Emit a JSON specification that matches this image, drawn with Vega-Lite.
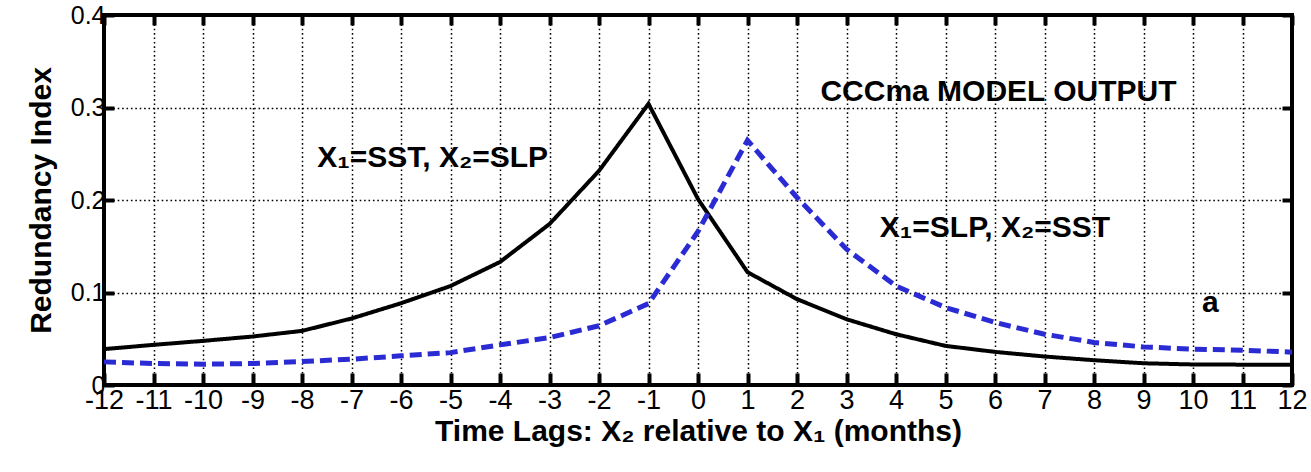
{
  "$schema": "https://vega.github.io/schema/vega-lite/v6.json",
  "width": 1188,
  "height": 370,
  "autosize": {"type": "none"},
  "padding": {"left": 104, "top": 15, "right": 19, "bottom": 87},
  "background": "white",
  "config": {
    "font": "Liberation Sans",
    "view": {"stroke": "black", "strokeWidth": 4},
    "axis": {
      "labelFont": "Liberation Sans",
      "titleFont": "Liberation Sans",
      "labelFontSize": 27,
      "labelColor": "black",
      "titleFontSize": 30,
      "titleFontWeight": "bold",
      "titleColor": "black",
      "tickColor": "black",
      "tickWidth": 4,
      "domain": false,
      "gridColor": "black",
      "gridOpacity": 1,
      "gridWidth": 1.5,
      "gridDash": [1.6, 2.8]
    }
  },
  "datasets": {
    "curves": [
      {"lag": -12, "value": 0.0388, "series": "X1=SST, X2=SLP"},
      {"lag": -11, "value": 0.0434, "series": "X1=SST, X2=SLP"},
      {"lag": -10, "value": 0.0477, "series": "X1=SST, X2=SLP"},
      {"lag": -9, "value": 0.0524, "series": "X1=SST, X2=SLP"},
      {"lag": -8, "value": 0.0585, "series": "X1=SST, X2=SLP"},
      {"lag": -7, "value": 0.0719, "series": "X1=SST, X2=SLP"},
      {"lag": -6, "value": 0.0884, "series": "X1=SST, X2=SLP"},
      {"lag": -5, "value": 0.107, "series": "X1=SST, X2=SLP"},
      {"lag": -4, "value": 0.133, "series": "X1=SST, X2=SLP"},
      {"lag": -3, "value": 0.174, "series": "X1=SST, X2=SLP"},
      {"lag": -2, "value": 0.2315, "series": "X1=SST, X2=SLP"},
      {"lag": -1, "value": 0.304, "series": "X1=SST, X2=SLP"},
      {"lag": 0, "value": 0.201, "series": "X1=SST, X2=SLP"},
      {"lag": 1, "value": 0.122, "series": "X1=SST, X2=SLP"},
      {"lag": 2, "value": 0.0928, "series": "X1=SST, X2=SLP"},
      {"lag": 3, "value": 0.0711, "series": "X1=SST, X2=SLP"},
      {"lag": 4, "value": 0.0549, "series": "X1=SST, X2=SLP"},
      {"lag": 5, "value": 0.0423, "series": "X1=SST, X2=SLP"},
      {"lag": 6, "value": 0.0358, "series": "X1=SST, X2=SLP"},
      {"lag": 7, "value": 0.0308, "series": "X1=SST, X2=SLP"},
      {"lag": 8, "value": 0.0268, "series": "X1=SST, X2=SLP"},
      {"lag": 9, "value": 0.0235, "series": "X1=SST, X2=SLP"},
      {"lag": 10, "value": 0.0222, "series": "X1=SST, X2=SLP"},
      {"lag": 11, "value": 0.022, "series": "X1=SST, X2=SLP"},
      {"lag": 12, "value": 0.022, "series": "X1=SST, X2=SLP"},
      {"lag": -12, "value": 0.025, "series": "X1=SLP, X2=SST"},
      {"lag": -11, "value": 0.0232, "series": "X1=SLP, X2=SST"},
      {"lag": -10, "value": 0.0225, "series": "X1=SLP, X2=SST"},
      {"lag": -9, "value": 0.0232, "series": "X1=SLP, X2=SST"},
      {"lag": -8, "value": 0.0254, "series": "X1=SLP, X2=SST"},
      {"lag": -7, "value": 0.0279, "series": "X1=SLP, X2=SST"},
      {"lag": -6, "value": 0.0315, "series": "X1=SLP, X2=SST"},
      {"lag": -5, "value": 0.035, "series": "X1=SLP, X2=SST"},
      {"lag": -4, "value": 0.0434, "series": "X1=SLP, X2=SST"},
      {"lag": -3, "value": 0.0513, "series": "X1=SLP, X2=SST"},
      {"lag": -2, "value": 0.064, "series": "X1=SLP, X2=SST"},
      {"lag": -1, "value": 0.088, "series": "X1=SLP, X2=SST"},
      {"lag": 0, "value": 0.166, "series": "X1=SLP, X2=SST"},
      {"lag": 1, "value": 0.2645, "series": "X1=SLP, X2=SST"},
      {"lag": 2, "value": 0.2027, "series": "X1=SLP, X2=SST"},
      {"lag": 3, "value": 0.1468, "series": "X1=SLP, X2=SST"},
      {"lag": 4, "value": 0.107, "series": "X1=SLP, X2=SST"},
      {"lag": 5, "value": 0.0838, "series": "X1=SLP, X2=SST"},
      {"lag": 6, "value": 0.0676, "series": "X1=SLP, X2=SST"},
      {"lag": 7, "value": 0.0549, "series": "X1=SLP, X2=SST"},
      {"lag": 8, "value": 0.046, "series": "X1=SLP, X2=SST"},
      {"lag": 9, "value": 0.0412, "series": "X1=SLP, X2=SST"},
      {"lag": 10, "value": 0.0387, "series": "X1=SLP, X2=SST"},
      {"lag": 11, "value": 0.0377, "series": "X1=SLP, X2=SST"},
      {"lag": 12, "value": 0.0355, "series": "X1=SLP, X2=SST"}
    ],
    "notes": [
      {"lag": -5.36, "value": 0.2355, "label": "X₁=SST, X₂=SLP"},
      {"lag": 6.0, "value": 0.16, "label": "X₁=SLP, X₂=SST"},
      {"lag": 6.07, "value": 0.307, "label": "CCCma MODEL OUTPUT"},
      {"lag": 10.35, "value": 0.079, "label": "a"}
    ]
  },
  "layer": [
    {
      "data": {"name": "curves"},
      "mark": {"type": "line", "strokeCap": "butt", "strokeJoin": "miter"},
      "encoding": {
        "x": {
          "field": "lag",
          "type": "quantitative",
          "scale": {"domain": [-12, 12], "nice": false, "zero": false},
          "axis": {
            "orient": "bottom",
            "values": [-12, -11, -10, -9, -8, -7, -6, -5, -4, -3, -2, -1, 0, 1, 2, 3, 4, 5, 6, 7, 8, 9, 10, 11, 12],
            "grid": true,
            "tickSize": -12,
            "labelPadding": 14,
            "labelFlush": false,
            "labelOverlap": false,
            "labelExpr": "'' + datum.value",
            "title": "Time Lags: X₂ relative to X₁ (months)",
            "titlePadding": 3
          }
        },
        "y": {
          "field": "value",
          "type": "quantitative",
          "scale": {"domain": [0, 0.4], "nice": false},
          "axis": {
            "orient": "left",
            "values": [0, 0.1, 0.2, 0.3, 0.4],
            "grid": true,
            "tickSize": -10,
            "labelPadding": 9,
            "labelFontSize": 25,
            "labelFlush": false,
            "labelOverlap": false,
            "format": ".1~f",
            "title": "Redundancy Index",
            "titlePadding": 14
          }
        },
        "color": {
          "field": "series",
          "type": "nominal",
          "scale": {"domain": ["X1=SST, X2=SLP", "X1=SLP, X2=SST"], "range": ["black", "#2b2bd4"]},
          "legend": null
        },
        "strokeDash": {
          "field": "series",
          "type": "nominal",
          "scale": {"domain": ["X1=SST, X2=SLP", "X1=SLP, X2=SST"], "range": [[1, 0], [12, 6]]},
          "legend": null
        },
        "strokeWidth": {
          "field": "series",
          "type": "nominal",
          "scale": {"domain": ["X1=SST, X2=SLP", "X1=SLP, X2=SST"], "range": [4, 5]},
          "legend": null
        }
      }
    },
    {
      "data": {"name": "curves"},
      "mark": {"type": "point", "opacity": 0},
      "encoding": {
        "x": {
          "field": "lag",
          "type": "quantitative",
          "scale": {"domain": [-12, 12], "nice": false, "zero": false},
          "axis": {
            "orient": "top",
            "values": [-12, -11, -10, -9, -8, -7, -6, -5, -4, -3, -2, -1, 0, 1, 2, 3, 4, 5, 6, 7, 8, 9, 10, 11, 12],
            "grid": false,
            "labels": false,
            "tickSize": -10,
            "title": null
          }
        },
        "y": {
          "field": "value",
          "type": "quantitative",
          "scale": {"domain": [0, 0.4], "nice": false},
          "axis": {
            "orient": "right",
            "values": [0, 0.1, 0.2, 0.3, 0.4],
            "grid": false,
            "labels": false,
            "tickSize": -10,
            "title": null
          }
        }
      }
    },
    {
      "data": {"name": "notes"},
      "mark": {"type": "text", "font": "Liberation Sans", "fontSize": 30, "fontWeight": "bold", "color": "black", "baseline": "alphabetic", "align": "center"},
      "encoding": {
        "x": {"field": "lag", "type": "quantitative", "axis": null},
        "y": {"field": "value", "type": "quantitative", "axis": null},
        "text": {"field": "label"}
      }
    }
  ],
  "resolve": {"axis": {"x": "independent", "y": "independent"}}
}
